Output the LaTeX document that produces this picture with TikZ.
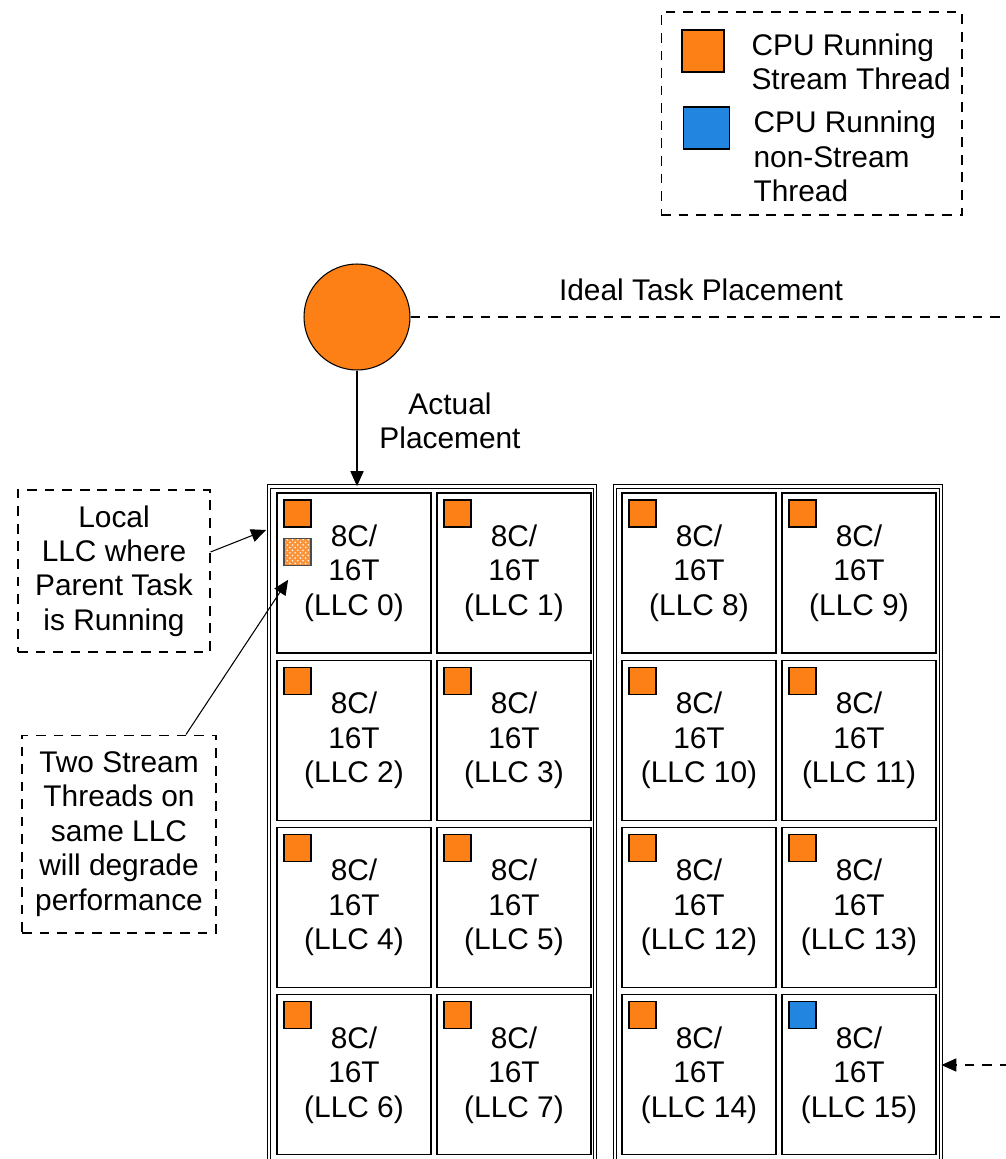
\documentclass[tikz,border=0pt]{standalone}
\usepackage{fontspec}
\setmainfont{Liberation Sans}
\usetikzlibrary{arrows.meta,patterns}
\definecolor{cpuorange}{RGB}{252,128,22}
\definecolor{cpublue}{RGB}{34,134,224}
\begin{document}
\begin{tikzpicture}[x=0.02cm,y=-0.02cm,line width=0.6pt,
		>={Triangle[length=8.5pt,width=7.5pt]},
		every node/.style={font=\fontsize{17pt}{19.6pt}\selectfont},
		ddash/.style={dash pattern=on 5.5pt off 4.5pt},
		note/.style={draw,ddash,align=center,inner sep=0pt},
		grp/.style={draw,double,double distance=1.4pt,line width=0.5pt,minimum width=6.52cm,minimum height=13.9cm,inner sep=0pt},
		llc/.style={draw,minimum width=3.08cm,minimum height=3.2cm,align=center,inner sep=0pt},
		cpu/.style={draw,fill=cpuorange,minimum size=0.54cm,inner sep=0pt}]
		\clip (0,0) rectangle (1006,1159);
		\node[note,minimum width=6.02cm,minimum height=4.06cm] (legend) at (811.5,113.5) {};
		\node[cpu,minimum size=0.84cm] (keystream) at (703,51) {};
		\node[cpu,fill=cpublue,minimum width=0.92cm,minimum height=0.84cm] (keyother) at (706.5,128) {};
		\node[anchor=west,align=left,inner sep=0pt] (keystreamtxt) at (751,62) {CPU Running\\Stream Thread};
		\node[anchor=west,align=left,inner sep=0pt] (keyothertxt) at (753,156.5) {CPU Running\\non-Stream\\Thread};
		\node[grp] (grpA) at (432,834) {};
		\node[grp] (grpB) at (778,834) {};
		\foreach \r in {0,...,3}
			\foreach \c/\x in {0/354,1/514,2/699,3/859}{
				\pgfmathtruncatemacro{\n}{\c<2 ? 2*\r+\c : 6+2*\r+\c}
				\ifnum\n=15 \def\cpucol{cpublue}\else\def\cpucol{cpuorange}\fi
				\node[llc] (llc\n) at (\x,573+167.3*\r) {8C/\\16T\\(LLC \n)};
				\node[cpu,fill=\cpucol,anchor=north west] (cpu\n) at ([shift={(0.14cm,-0.14cm)}]llc\n.north west) {};
			}
		\node[draw=black!70,preaction={fill=cpuorange!85},pattern=crosshatch dots,pattern color=white,minimum size=0.54cm,inner sep=0pt,anchor=north] (hatch) at ([yshift=-0.2cm]cpu0.south) {};
		\node[circle,draw,fill=cpuorange,minimum size=2.12cm,inner sep=0pt] (task) at (357,317) {};
		\node (ideal) at (701,290) {Ideal Task Placement};
		\node[align=center] (actual) at (450,421) {Actual\\Placement};
		\node[note,minimum width=3.84cm,minimum height=3.24cm] (local) at (114,571) {Local\\LLC where\\Parent Task\\is Running};
		\node[note,minimum width=3.88cm,minimum height=3.96cm] (twostream) at (119,834) {Two Stream\\Threads on\\same LLC\\will degrade\\performance};
		\coordinate (back) at (1030,1065);
		\coordinate (localtip) at (266,530);
		\draw[->] (task.south) -- (task.south |- grpA.north);
		\draw[ddash,->] (task.east) -- (task.east -| back) -- (back) -- (back -| grpB.east);
		\draw[->] ([yshift=0.38cm]local.east) -- (localtip);
		\draw[->,shorten >=0.34cm] ([xshift=1.34cm]twostream.north) -- (hatch.south);
	\end{tikzpicture}
\end{document}
